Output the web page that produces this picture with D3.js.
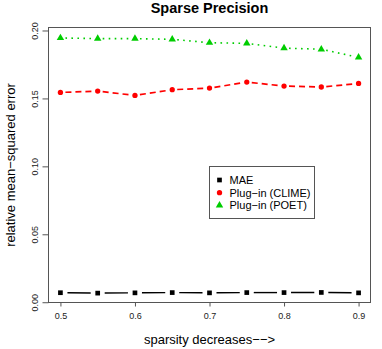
<!DOCTYPE html>
<html>
<head>
<meta charset="utf-8">
<script src="https://cdn.jsdelivr.net/npm/d3@7"></script>
<style>
  body { margin: 0; background: #fff; }
  text { font-family: "Liberation Sans", Arial, sans-serif; }
</style>
</head>
<body>
<div id="graph"></div>
<script>
// values
var sparsity = [0.5, 0.55, 0.6, 0.65, 0.7, 0.75, 0.8, 0.85, 0.9];
var mae      = [0.0070, 0.0067, 0.0069, 0.0071, 0.0069, 0.0071, 0.0071, 0.0072, 0.0069];
var clime    = [0.1544, 0.1554, 0.1522, 0.1564, 0.1576, 0.1620, 0.1591, 0.1584, 0.1610];
var poet     = [0.1945, 0.1940, 0.1940, 0.1935, 0.1910, 0.1905, 0.1870, 0.1862, 0.1802];
var xTicks = [0.5, 0.6, 0.7, 0.8, 0.9];
var yTicks = [0.00, 0.05, 0.10, 0.15, 0.20];
var seriesNames = ["MAE", "Plug\u2212in (CLIME)", "Plug\u2212in (POET)"];

function render() {
  var width = 382, height = 349;
  // plot region (note: "top" is a reserved window property, so use pTop etc.)
  var pLeft = 48.5, pRight = 370.5, pTop = 27.5, pBottom = 302.5;

  var svg = d3.select("#graph").append("svg")
    .attr("width", width)
    .attr("height", height);

  var x = d3.scaleLinear().domain([0.484, 0.916]).range([pLeft, pRight]);
  var y = d3.scaleLinear().domain([-0.0002, 0.2022]).range([pBottom, pTop]);

  // plot box
  svg.append("rect")
    .attr("x", pLeft).attr("y", pTop)
    .attr("width", pRight - pLeft).attr("height", pBottom - pTop)
    .attr("fill", "none").attr("stroke", "#555").attr("stroke-width", 1);

  // axes, R style: line from first to last tick, ticks outward
  var xAxis = d3.axisBottom(x).tickValues(xTicks).tickSize(4).tickPadding(6)
    .tickFormat(d3.format(".1f"));
  var gx = svg.append("g").attr("transform", "translate(0," + pBottom + ")").call(xAxis);
  gx.select(".domain").attr("d", "M" + x(0.5) + ",0H" + x(0.9)).attr("stroke", "#555");
  gx.selectAll(".tick line").attr("stroke", "#555");
  gx.selectAll(".tick text").attr("font-size", 9).attr("fill", "#222")
    .style("font-family", "'Liberation Sans', Arial, sans-serif");

  var yAxis = d3.axisLeft(y).tickValues(yTicks).tickSize(6).tickFormat(d3.format(".2f"));
  var gy = svg.append("g").attr("transform", "translate(" + pLeft + ",0)").call(yAxis);
  gy.select(".domain").attr("d", "M0," + y(0) + "V" + y(0.2)).attr("stroke", "#555");
  gy.selectAll(".tick line").attr("stroke", "#555");
  gy.selectAll(".tick text")
    .attr("font-size", 9).attr("fill", "#222")
    .attr("x", null).attr("dy", null)
    .attr("text-anchor", "middle")
    .attr("transform", "translate(-11,0) rotate(-90)")
    .style("font-family", "'Liberation Sans', Arial, sans-serif");

  // titles
  svg.append("text")
    .attr("x", (pLeft + pRight) / 2).attr("y", 13)
    .attr("text-anchor", "middle")
    .attr("font-size", 14.5).attr("font-weight", "bold")
    .text("Sparse Precision");

  svg.append("text")
    .attr("x", (pLeft + pRight) / 2).attr("y", 344)
    .attr("text-anchor", "middle")
    .attr("font-size", 13)
    .text("sparsity decreases\u2212\u2212>");

  svg.append("text")
    .attr("transform", "translate(15," + ((pTop + pBottom) / 2) + ") rotate(-90)")
    .attr("text-anchor", "middle")
    .attr("font-size", 13)
    .text("relative mean\u2212squared error");

  // type = "b" lines: segments with gaps around the points
  function drawLine(vals, color, dash, w, gap) {
    var pts = sparsity.map(function(s, i) { return [x(s), y(vals[i])]; });
    for (var i = 0; i < pts.length - 1; i++) {
      var a = pts[i], b = pts[i + 1];
      var dx = b[0] - a[0], dy = b[1] - a[1];
      var len = Math.sqrt(dx * dx + dy * dy);
      var ux = dx / len, uy = dy / len;
      svg.append("line")
        .attr("x1", a[0] + ux * gap).attr("y1", a[1] + uy * gap)
        .attr("x2", b[0] - ux * gap).attr("y2", b[1] - uy * gap)
        .attr("stroke", color)
        .attr("stroke-width", w)
        .attr("stroke-dasharray", dash);
    }
    return pts;
  }

  var blackPts = drawLine(mae, "#000", null, 1.4, 7);
  var redPts = drawLine(clime, "#ff0000", "6,4", 1.7, 5);
  var greenPts = drawLine(poet, "#00cd00", "1.6,4.4", 1.6, 5);

  var square = d3.symbol().type(d3.symbolSquare).size(22);
  var circle = d3.symbol().type(d3.symbolCircle).size(22);
  var triangle = d3.symbol().type(d3.symbolTriangle).size(24);

  function pos(d) { return "translate(" + d[0] + "," + d[1] + ")"; }

  svg.selectAll(".mae").data(blackPts).enter().append("path")
    .attr("class", "mae").attr("d", square)
    .attr("transform", pos).attr("fill", "#000");
  svg.selectAll(".clime").data(redPts).enter().append("path")
    .attr("class", "clime").attr("d", circle)
    .attr("transform", pos).attr("fill", "#ff0000");
  svg.selectAll(".poet").data(greenPts).enter().append("path")
    .attr("class", "poet").attr("d", triangle)
    .attr("transform", pos).attr("fill", "#00cd00");

  // legend
  var legend = svg.append("g");
  legend.append("rect")
    .attr("x", 209.5).attr("y", 166.5).attr("width", 105).attr("height", 52)
    .attr("fill", "#fff").attr("stroke", "#555");
  var legSymbols = [square, circle, triangle];
  var legColors = ["#000", "#ff0000", "#00cd00"];
  seriesNames.forEach(function(name, i) {
    var ly = 180 + i * 12.7;
    legend.append("path").attr("d", legSymbols[i])
      .attr("transform", "translate(219.5," + ly + ")")
      .attr("fill", legColors[i]);
    legend.append("text")
      .attr("x", 229.5).attr("y", ly + 4)
      .attr("font-size", 11)
      .text(name);
  });
}

render();
</script>
</body>
</html>
